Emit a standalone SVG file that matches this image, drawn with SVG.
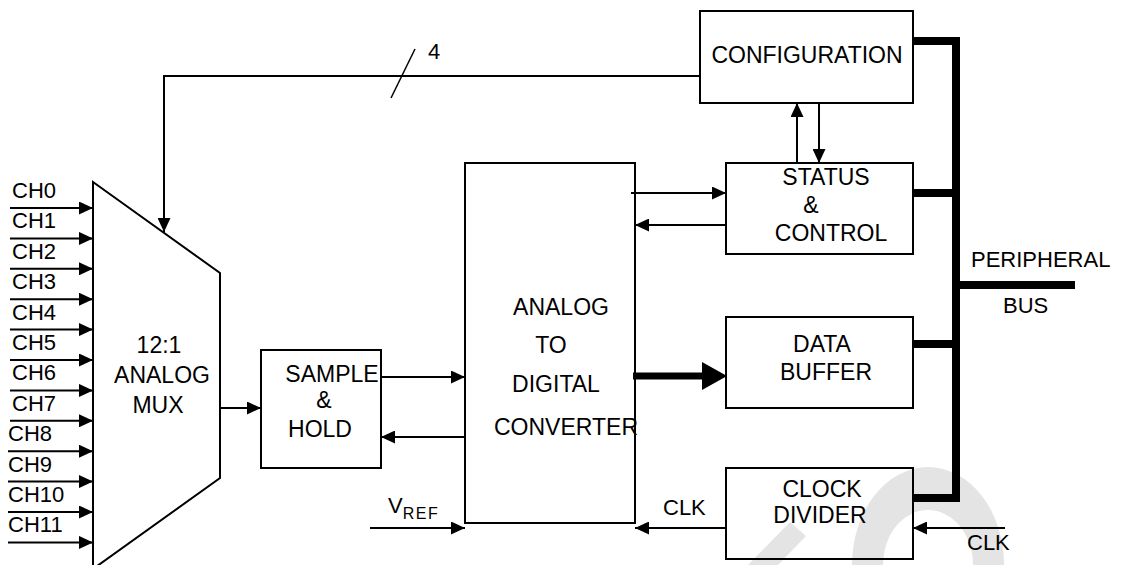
<svg xmlns="http://www.w3.org/2000/svg" width="1121" height="565" viewBox="0 0 1121 565">
<style>
  .box { fill: none; stroke: #000; stroke-width: 2; }
  .ln { fill: none; stroke: #000; stroke-width: 2; }
  .bus { fill: none; stroke: #000; stroke-width: 8; stroke-linejoin: miter; stroke-linecap: butt; }
  .t { font-family: "Liberation Sans", Arial, sans-serif; font-size: 22px; fill: #000; }
  .b { font-size: 23px; }
  .m { text-anchor: middle; }
  .wm { fill: #e4e4e4; stroke: none; }
</style>
<defs>
  <marker id="arr" markerUnits="userSpaceOnUse" markerWidth="14" markerHeight="13" refX="14" refY="6.5" orient="auto">
    <path d="M0,0 L14,6.5 L0,13 Z" fill="#000"/>
  </marker>
</defs>

<g id="watermark">
  <polygon class="wm" points="748,565 790,522 806,536 778,565"/>
  <path class="wm" d="M852,565 A76,98 0 0 1 1004,565 L973,565 A45,55 0 0 0 883,565 Z"/>
</g>

<g id="connectors">
  <!-- channel inputs -->
  <line class="ln" x1="10" y1="208" x2="93" y2="208" marker-end="url(#arr)"/>
  <line class="ln" x1="10" y1="238.4" x2="93" y2="238.4" marker-end="url(#arr)"/>
  <line class="ln" x1="10" y1="268.8" x2="93" y2="268.8" marker-end="url(#arr)"/>
  <line class="ln" x1="10" y1="299.2" x2="93" y2="299.2" marker-end="url(#arr)"/>
  <line class="ln" x1="10" y1="329.6" x2="93" y2="329.6" marker-end="url(#arr)"/>
  <line class="ln" x1="10" y1="360" x2="93" y2="360" marker-end="url(#arr)"/>
  <line class="ln" x1="10" y1="390.4" x2="93" y2="390.4" marker-end="url(#arr)"/>
  <line class="ln" x1="10" y1="420.8" x2="93" y2="420.8" marker-end="url(#arr)"/>
  <line class="ln" x1="8" y1="451.2" x2="93" y2="451.2" marker-end="url(#arr)"/>
  <line class="ln" x1="8" y1="481.6" x2="93" y2="481.6" marker-end="url(#arr)"/>
  <line class="ln" x1="8" y1="512" x2="93" y2="512" marker-end="url(#arr)"/>
  <line class="ln" x1="8" y1="542.4" x2="93" y2="542.4" marker-end="url(#arr)"/>

  <!-- config -> mux (4 bits) -->
  <polyline class="ln" points="700,76 164,76 164,232" marker-end="url(#arr)"/>
  <line x1="391" y1="98" x2="415" y2="49" stroke="#000" stroke-width="1.5"/>

  <!-- mux -> sample & hold -->
  <line class="ln" x1="220" y1="408" x2="261" y2="408" marker-end="url(#arr)"/>
  <!-- S&H <-> ADC -->
  <line class="ln" x1="381" y1="377" x2="465" y2="377" marker-end="url(#arr)"/>
  <line class="ln" x1="465" y1="437" x2="381" y2="437" marker-end="url(#arr)"/>
  <!-- VREF -->
  <line class="ln" x1="370" y1="528" x2="465" y2="528" marker-end="url(#arr)"/>

  <!-- ADC <-> status -->
  <line class="ln" x1="631" y1="193" x2="726" y2="193" marker-end="url(#arr)"/>
  <line class="ln" x1="726" y1="225" x2="635" y2="225" marker-end="url(#arr)"/>
  <!-- status <-> config -->
  <line class="ln" x1="797" y1="163" x2="797" y2="103" marker-end="url(#arr)"/>
  <line class="ln" x1="819" y1="103" x2="819" y2="163" marker-end="url(#arr)"/>

  <!-- ADC -> data buffer (thick) -->
  <line x1="633" y1="376" x2="704" y2="376" stroke="#000" stroke-width="7"/>
  <polygon points="702,362 727,376 702,390" fill="#000"/>

  <!-- clock divider -> ADC -->
  <line class="ln" x1="726" y1="528" x2="635" y2="528" marker-end="url(#arr)"/>
  <!-- external CLK -->
  <line class="ln" x1="1005" y1="528" x2="913" y2="528" marker-end="url(#arr)"/>

  <!-- peripheral bus -->
  <polyline class="bus" points="913,41 956,41 956,498 913,498"/>
  <line class="bus" x1="913" y1="193" x2="956" y2="193"/>
  <line class="bus" x1="913" y1="344" x2="956" y2="344"/>
  <line class="bus" x1="956" y1="285" x2="1075" y2="285"/>
</g>

<g id="labels">
  <text class="t" x="12" y="198">CH0</text>
  <text class="t" x="12" y="228.4">CH1</text>
  <text class="t" x="12" y="258.8">CH2</text>
  <text class="t" x="12" y="289.2">CH3</text>
  <text class="t" x="12" y="319.6">CH4</text>
  <text class="t" x="12" y="350">CH5</text>
  <text class="t" x="12" y="380.4">CH6</text>
  <text class="t" x="12" y="410.8">CH7</text>
  <text class="t" x="8" y="441.2">CH8</text>
  <text class="t" x="8" y="471.6">CH9</text>
  <text class="t" x="8" y="502">CH10</text>
  <text class="t" x="8" y="532.4">CH11</text>
  <text class="t" x="428" y="59">4</text>
  <text class="t" x="388" y="513">V<tspan font-size="16" dy="6" letter-spacing="1.5">REF</tspan></text>
  <text class="t" x="663" y="515">CLK</text>
  <text class="t" x="967" y="550">CLK</text>
  <text class="t" x="971" y="267">PERIPHERAL</text>
  <text class="t" x="1003" y="313">BUS</text>
</g>

<g id="mux">
  <polygon class="box" points="93,182 220,273 220,478 93,569"/>
  <text class="t b m" x="159" y="353">12:1</text>
  <text class="t b m" x="162" y="383">ANALOG</text>
  <text class="t b m" x="158" y="413">MUX</text>
</g>

<g id="sample-hold">
  <rect class="box" x="261" y="350" width="120" height="118"/>
  <text class="t b m" x="332" y="382">SAMPLE</text>
  <text class="t b m" x="324" y="408">&amp;</text>
  <text class="t b m" x="320" y="437">HOLD</text>
</g>

<g id="adc">
  <rect class="box" x="465" y="163" width="170" height="360"/>
  <text class="t b m" x="561" y="315">ANALOG</text>
  <text class="t b m" x="551" y="353">TO</text>
  <text class="t b m" x="556" y="392">DIGITAL</text>
  <text class="t b m" x="566" y="435">CONVERTER</text>
</g>

<g id="configuration">
  <rect class="box" x="700" y="11" width="213" height="92"/>
  <text class="t b m" x="807" y="63">CONFIGURATION</text>
</g>

<g id="status-control">
  <rect class="box" x="726" y="163" width="187" height="91"/>
  <text class="t b m" x="826" y="185">STATUS</text>
  <text class="t b m" x="811" y="213">&amp;</text>
  <text class="t b m" x="831" y="241">CONTROL</text>
</g>

<g id="data-buffer">
  <rect class="box" x="726" y="317" width="187" height="91"/>
  <text class="t b m" x="822" y="352">DATA</text>
  <text class="t b m" x="826" y="380">BUFFER</text>
</g>

<g id="clock-divider">
  <rect class="box" x="726" y="468" width="187" height="91"/>
  <text class="t b m" x="822" y="497">CLOCK</text>
  <text class="t b m" x="820" y="523">DIVIDER</text>
</g>
</svg>
